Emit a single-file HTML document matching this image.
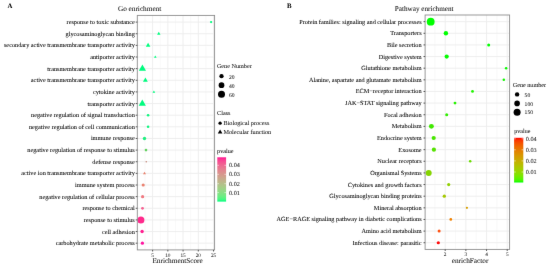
<!DOCTYPE html>
<html><head><meta charset="utf-8"><style>
html,body{margin:0;padding:0;background:#fff;width:550px;height:266px;overflow:hidden}
body{position:relative;font-family:"Liberation Serif",serif}
text{text-rendering:geometricPrecision;stroke:#000;stroke-width:0.05px}
</style></head><body>
<svg width="550" height="266" viewBox="0 0 550 266" style="position:absolute;left:0;top:0"><defs><linearGradient id="gl" x1="0" y1="1" x2="0" y2="0"><stop offset="0.000" stop-color="#00ff7f"/><stop offset="0.050" stop-color="#47f781"/><stop offset="0.100" stop-color="#63f082"/><stop offset="0.150" stop-color="#77e884"/><stop offset="0.200" stop-color="#87e085"/><stop offset="0.250" stop-color="#95d886"/><stop offset="0.300" stop-color="#a1d087"/><stop offset="0.350" stop-color="#acc889"/><stop offset="0.400" stop-color="#b5bf8a"/><stop offset="0.450" stop-color="#beb68b"/><stop offset="0.500" stop-color="#c6ad8c"/><stop offset="0.550" stop-color="#cea48d"/><stop offset="0.600" stop-color="#d59a8d"/><stop offset="0.650" stop-color="#db908e"/><stop offset="0.700" stop-color="#e1868f"/><stop offset="0.750" stop-color="#e77a90"/><stop offset="0.800" stop-color="#ec6d91"/><stop offset="0.850" stop-color="#f15f91"/><stop offset="0.900" stop-color="#f64f92"/><stop offset="0.950" stop-color="#fb3a92"/><stop offset="1.000" stop-color="#ff1493"/></linearGradient><linearGradient id="gr" x1="0" y1="1" x2="0" y2="0"><stop offset="0.000" stop-color="#00ff00"/><stop offset="0.050" stop-color="#49f700"/><stop offset="0.100" stop-color="#65ef00"/><stop offset="0.150" stop-color="#7ae700"/><stop offset="0.200" stop-color="#8adf00"/><stop offset="0.250" stop-color="#98d700"/><stop offset="0.300" stop-color="#a4ce00"/><stop offset="0.350" stop-color="#aec600"/><stop offset="0.400" stop-color="#b8bd00"/><stop offset="0.450" stop-color="#c1b400"/><stop offset="0.500" stop-color="#c9ab00"/><stop offset="0.550" stop-color="#d0a100"/><stop offset="0.600" stop-color="#d79800"/><stop offset="0.650" stop-color="#dd8d00"/><stop offset="0.700" stop-color="#e38200"/><stop offset="0.750" stop-color="#e87600"/><stop offset="0.800" stop-color="#ed6a00"/><stop offset="0.850" stop-color="#f25b00"/><stop offset="0.900" stop-color="#f74a00"/><stop offset="0.950" stop-color="#fb3300"/><stop offset="1.000" stop-color="#ff0000"/></linearGradient><filter id="bl" x="0" y="0" width="550" height="266" filterUnits="userSpaceOnUse" color-interpolation-filters="sRGB"><feConvolveMatrix order="3" kernelMatrix="0.00276 0.04704 0.00276 0.04704 0.80077 0.04704 0.00276 0.04704 0.00276" edgeMode="duplicate" preserveAlpha="true"/></filter></defs><g filter="url(#bl)"><rect width="550" height="266" fill="#fff"/><line x1="145.01" y1="15.4" x2="145.01" y2="249.9" stroke="#f2f2f2" stroke-width="0.5"/><line x1="160.24" y1="15.4" x2="160.24" y2="249.9" stroke="#f2f2f2" stroke-width="0.5"/><line x1="175.46" y1="15.4" x2="175.46" y2="249.9" stroke="#f2f2f2" stroke-width="0.5"/><line x1="190.69" y1="15.4" x2="190.69" y2="249.9" stroke="#f2f2f2" stroke-width="0.5"/><line x1="205.91" y1="15.4" x2="205.91" y2="249.9" stroke="#f2f2f2" stroke-width="0.5"/><line x1="152.62" y1="15.4" x2="152.62" y2="249.9" stroke="#ececec" stroke-width="0.9"/><line x1="167.85" y1="15.4" x2="167.85" y2="249.9" stroke="#ececec" stroke-width="0.9"/><line x1="183.07" y1="15.4" x2="183.07" y2="249.9" stroke="#ececec" stroke-width="0.9"/><line x1="198.30" y1="15.4" x2="198.30" y2="249.9" stroke="#ececec" stroke-width="0.9"/><line x1="213.53" y1="15.4" x2="213.53" y2="249.9" stroke="#ececec" stroke-width="0.9"/><line x1="137.3" y1="22.10" x2="214.6" y2="22.10" stroke="#ececec" stroke-width="0.9"/><line x1="137.3" y1="33.74" x2="214.6" y2="33.74" stroke="#ececec" stroke-width="0.9"/><line x1="137.3" y1="45.37" x2="214.6" y2="45.37" stroke="#ececec" stroke-width="0.9"/><line x1="137.3" y1="57.01" x2="214.6" y2="57.01" stroke="#ececec" stroke-width="0.9"/><line x1="137.3" y1="68.64" x2="214.6" y2="68.64" stroke="#ececec" stroke-width="0.9"/><line x1="137.3" y1="80.28" x2="214.6" y2="80.28" stroke="#ececec" stroke-width="0.9"/><line x1="137.3" y1="91.92" x2="214.6" y2="91.92" stroke="#ececec" stroke-width="0.9"/><line x1="137.3" y1="103.55" x2="214.6" y2="103.55" stroke="#ececec" stroke-width="0.9"/><line x1="137.3" y1="115.19" x2="214.6" y2="115.19" stroke="#ececec" stroke-width="0.9"/><line x1="137.3" y1="126.82" x2="214.6" y2="126.82" stroke="#ececec" stroke-width="0.9"/><line x1="137.3" y1="138.46" x2="214.6" y2="138.46" stroke="#ececec" stroke-width="0.9"/><line x1="137.3" y1="150.10" x2="214.6" y2="150.10" stroke="#ececec" stroke-width="0.9"/><line x1="137.3" y1="161.73" x2="214.6" y2="161.73" stroke="#ececec" stroke-width="0.9"/><line x1="137.3" y1="173.37" x2="214.6" y2="173.37" stroke="#ececec" stroke-width="0.9"/><line x1="137.3" y1="185.00" x2="214.6" y2="185.00" stroke="#ececec" stroke-width="0.9"/><line x1="137.3" y1="196.64" x2="214.6" y2="196.64" stroke="#ececec" stroke-width="0.9"/><line x1="137.3" y1="208.28" x2="214.6" y2="208.28" stroke="#ececec" stroke-width="0.9"/><line x1="137.3" y1="219.91" x2="214.6" y2="219.91" stroke="#ececec" stroke-width="0.9"/><line x1="137.3" y1="231.55" x2="214.6" y2="231.55" stroke="#ececec" stroke-width="0.9"/><line x1="137.3" y1="243.18" x2="214.6" y2="243.18" stroke="#ececec" stroke-width="0.9"/><line x1="434.87" y1="15.0" x2="434.87" y2="249.4" stroke="#f2f2f2" stroke-width="0.5"/><line x1="455.53" y1="15.0" x2="455.53" y2="249.4" stroke="#f2f2f2" stroke-width="0.5"/><line x1="476.20" y1="15.0" x2="476.20" y2="249.4" stroke="#f2f2f2" stroke-width="0.5"/><line x1="496.88" y1="15.0" x2="496.88" y2="249.4" stroke="#f2f2f2" stroke-width="0.5"/><line x1="445.20" y1="15.0" x2="445.20" y2="249.4" stroke="#ececec" stroke-width="0.9"/><line x1="465.87" y1="15.0" x2="465.87" y2="249.4" stroke="#ececec" stroke-width="0.9"/><line x1="486.54" y1="15.0" x2="486.54" y2="249.4" stroke="#ececec" stroke-width="0.9"/><line x1="507.21" y1="15.0" x2="507.21" y2="249.4" stroke="#ececec" stroke-width="0.9"/><line x1="425.1" y1="21.65" x2="509.6" y2="21.65" stroke="#ececec" stroke-width="0.9"/><line x1="425.1" y1="33.29" x2="509.6" y2="33.29" stroke="#ececec" stroke-width="0.9"/><line x1="425.1" y1="44.92" x2="509.6" y2="44.92" stroke="#ececec" stroke-width="0.9"/><line x1="425.1" y1="56.56" x2="509.6" y2="56.56" stroke="#ececec" stroke-width="0.9"/><line x1="425.1" y1="68.19" x2="509.6" y2="68.19" stroke="#ececec" stroke-width="0.9"/><line x1="425.1" y1="79.83" x2="509.6" y2="79.83" stroke="#ececec" stroke-width="0.9"/><line x1="425.1" y1="91.47" x2="509.6" y2="91.47" stroke="#ececec" stroke-width="0.9"/><line x1="425.1" y1="103.10" x2="509.6" y2="103.10" stroke="#ececec" stroke-width="0.9"/><line x1="425.1" y1="114.74" x2="509.6" y2="114.74" stroke="#ececec" stroke-width="0.9"/><line x1="425.1" y1="126.37" x2="509.6" y2="126.37" stroke="#ececec" stroke-width="0.9"/><line x1="425.1" y1="138.01" x2="509.6" y2="138.01" stroke="#ececec" stroke-width="0.9"/><line x1="425.1" y1="149.65" x2="509.6" y2="149.65" stroke="#ececec" stroke-width="0.9"/><line x1="425.1" y1="161.28" x2="509.6" y2="161.28" stroke="#ececec" stroke-width="0.9"/><line x1="425.1" y1="172.92" x2="509.6" y2="172.92" stroke="#ececec" stroke-width="0.9"/><line x1="425.1" y1="184.55" x2="509.6" y2="184.55" stroke="#ececec" stroke-width="0.9"/><line x1="425.1" y1="196.19" x2="509.6" y2="196.19" stroke="#ececec" stroke-width="0.9"/><line x1="425.1" y1="207.83" x2="509.6" y2="207.83" stroke="#ececec" stroke-width="0.9"/><line x1="425.1" y1="219.46" x2="509.6" y2="219.46" stroke="#ececec" stroke-width="0.9"/><line x1="425.1" y1="231.10" x2="509.6" y2="231.10" stroke="#ececec" stroke-width="0.9"/><line x1="425.1" y1="242.73" x2="509.6" y2="242.73" stroke="#ececec" stroke-width="0.9"/><circle cx="211.1" cy="22.10" r="1.10" fill="#00ff7f"/><polygon points="157.10,34.72 160.50,34.72 158.80,31.76" fill="#00ff7f"/><polygon points="145.85,46.68 150.35,46.68 148.10,42.76" fill="#00ff7f"/><polygon points="154.00,57.76 156.60,57.76 155.30,55.50" fill="#00ff7f"/><polygon points="138.80,70.73 146.00,70.73 142.40,64.47" fill="#00fb7f"/><polygon points="142.95,81.70 147.85,81.70 145.40,77.44" fill="#00fb7f"/><polygon points="152.60,92.67 155.20,92.67 153.90,90.41" fill="#00fb7f"/><polygon points="138.70,105.64 145.90,105.64 142.30,99.38" fill="#00fb7f"/><circle cx="148.1" cy="115.19" r="1.30" fill="#10f57f"/><circle cx="148.1" cy="126.82" r="1.30" fill="#10f57f"/><circle cx="144.5" cy="138.46" r="1.70" fill="#20ef80"/><circle cx="146.0" cy="150.10" r="1.30" fill="#63d060"/><circle cx="146.3" cy="161.73" r="0.80" fill="#c58a7c"/><polygon points="143.00,174.24 146.00,174.24 144.50,171.63" fill="#e8806c"/><circle cx="143.2" cy="185.00" r="1.55" fill="#ea8270"/><circle cx="142.6" cy="196.64" r="1.60" fill="#f07880"/><circle cx="142.5" cy="208.28" r="1.40" fill="#f56090"/><circle cx="140.9" cy="219.91" r="3.50" fill="#ff2a8c"/><circle cx="142.1" cy="231.55" r="1.70" fill="#ff1e90"/><circle cx="142.4" cy="243.18" r="1.60" fill="#ff14a0"/><circle cx="430.7" cy="21.65" r="3.90" fill="#00ff00"/><circle cx="445.9" cy="33.29" r="2.20" fill="#00ff00"/><circle cx="488.7" cy="44.92" r="1.50" fill="#00ff00"/><circle cx="446.7" cy="56.56" r="2.10" fill="#05fc00"/><circle cx="506.1" cy="68.19" r="1.25" fill="#08fa00"/><circle cx="503.8" cy="79.83" r="1.25" fill="#10f800"/><circle cx="472.5" cy="91.47" r="1.40" fill="#20f400"/><circle cx="455.0" cy="103.10" r="1.40" fill="#25f200"/><circle cx="446.7" cy="114.74" r="1.50" fill="#30ee00"/><circle cx="431.4" cy="126.37" r="2.45" fill="#40e800"/><circle cx="433.7" cy="138.01" r="2.10" fill="#48e600"/><circle cx="433.9" cy="149.65" r="2.10" fill="#55e200"/><circle cx="470.2" cy="161.28" r="1.25" fill="#68dc00"/><circle cx="428.7" cy="172.92" r="3.00" fill="#85d400"/><circle cx="448.7" cy="184.55" r="1.60" fill="#90d000"/><circle cx="444.3" cy="196.19" r="1.65" fill="#a4c800"/><circle cx="466.9" cy="207.83" r="1.10" fill="#d8a000"/><circle cx="450.8" cy="219.46" r="1.35" fill="#f08000"/><circle cx="439.1" cy="231.10" r="1.50" fill="#ff5010"/><circle cx="438.3" cy="242.73" r="1.60" fill="#ff0a0a"/><rect x="137.3" y="15.4" width="77.30" height="234.50" fill="none" stroke="#8e8e8e" stroke-width="0.9"/><rect x="425.1" y="15.0" width="84.50" height="234.40" fill="none" stroke="#8e8e8e" stroke-width="0.9"/><line x1="135.70" y1="22.10" x2="137.3" y2="22.10" stroke="#333" stroke-width="0.8"/><text x="134.8" y="24.10" text-anchor="end" font-size="6.25" fill="#000" style="font-family:&quot;Liberation Serif&quot;,serif">response to toxic substance</text><line x1="135.70" y1="33.74" x2="137.3" y2="33.74" stroke="#333" stroke-width="0.8"/><text x="134.8" y="35.74" text-anchor="end" font-size="6.25" fill="#000" style="font-family:&quot;Liberation Serif&quot;,serif">glycosaminoglycan binding</text><line x1="135.70" y1="45.37" x2="137.3" y2="45.37" stroke="#333" stroke-width="0.8"/><text x="134.8" y="47.37" text-anchor="end" font-size="6.25" fill="#000" style="font-family:&quot;Liberation Serif&quot;,serif">secondary active transmembrane transporter activity</text><line x1="135.70" y1="57.01" x2="137.3" y2="57.01" stroke="#333" stroke-width="0.8"/><text x="134.8" y="59.01" text-anchor="end" font-size="6.25" fill="#000" style="font-family:&quot;Liberation Serif&quot;,serif">antiporter activity</text><line x1="135.70" y1="68.64" x2="137.3" y2="68.64" stroke="#333" stroke-width="0.8"/><text x="134.8" y="70.64" text-anchor="end" font-size="6.25" fill="#000" style="font-family:&quot;Liberation Serif&quot;,serif">transmembrane transporter activity</text><line x1="135.70" y1="80.28" x2="137.3" y2="80.28" stroke="#333" stroke-width="0.8"/><text x="134.8" y="82.28" text-anchor="end" font-size="6.25" fill="#000" style="font-family:&quot;Liberation Serif&quot;,serif">active transmembrane transporter activity</text><line x1="135.70" y1="91.92" x2="137.3" y2="91.92" stroke="#333" stroke-width="0.8"/><text x="134.8" y="93.92" text-anchor="end" font-size="6.25" fill="#000" style="font-family:&quot;Liberation Serif&quot;,serif">cytokine activity</text><line x1="135.70" y1="103.55" x2="137.3" y2="103.55" stroke="#333" stroke-width="0.8"/><text x="134.8" y="105.55" text-anchor="end" font-size="6.25" fill="#000" style="font-family:&quot;Liberation Serif&quot;,serif">transporter activity</text><line x1="135.70" y1="115.19" x2="137.3" y2="115.19" stroke="#333" stroke-width="0.8"/><text x="134.8" y="117.19" text-anchor="end" font-size="6.25" fill="#000" style="font-family:&quot;Liberation Serif&quot;,serif">negative regulation of signal transduction</text><line x1="135.70" y1="126.82" x2="137.3" y2="126.82" stroke="#333" stroke-width="0.8"/><text x="134.8" y="128.82" text-anchor="end" font-size="6.25" fill="#000" style="font-family:&quot;Liberation Serif&quot;,serif">negative regulation of cell communication</text><line x1="135.70" y1="138.46" x2="137.3" y2="138.46" stroke="#333" stroke-width="0.8"/><text x="134.8" y="140.46" text-anchor="end" font-size="6.25" fill="#000" style="font-family:&quot;Liberation Serif&quot;,serif">immune response</text><line x1="135.70" y1="150.10" x2="137.3" y2="150.10" stroke="#333" stroke-width="0.8"/><text x="134.8" y="152.10" text-anchor="end" font-size="6.25" fill="#000" style="font-family:&quot;Liberation Serif&quot;,serif">negative regulation of response to stimulus</text><line x1="135.70" y1="161.73" x2="137.3" y2="161.73" stroke="#333" stroke-width="0.8"/><text x="134.8" y="163.73" text-anchor="end" font-size="6.25" fill="#000" style="font-family:&quot;Liberation Serif&quot;,serif">defense response</text><line x1="135.70" y1="173.37" x2="137.3" y2="173.37" stroke="#333" stroke-width="0.8"/><text x="134.8" y="175.37" text-anchor="end" font-size="6.25" fill="#000" style="font-family:&quot;Liberation Serif&quot;,serif">active ion transmembrane transporter activity</text><line x1="135.70" y1="185.00" x2="137.3" y2="185.00" stroke="#333" stroke-width="0.8"/><text x="134.8" y="187.00" text-anchor="end" font-size="6.25" fill="#000" style="font-family:&quot;Liberation Serif&quot;,serif">immune system process</text><line x1="135.70" y1="196.64" x2="137.3" y2="196.64" stroke="#333" stroke-width="0.8"/><text x="134.8" y="198.64" text-anchor="end" font-size="6.25" fill="#000" style="font-family:&quot;Liberation Serif&quot;,serif">negative regulation of cellular process</text><line x1="135.70" y1="208.28" x2="137.3" y2="208.28" stroke="#333" stroke-width="0.8"/><text x="134.8" y="210.28" text-anchor="end" font-size="6.25" fill="#000" style="font-family:&quot;Liberation Serif&quot;,serif">response to chemical</text><line x1="135.70" y1="219.91" x2="137.3" y2="219.91" stroke="#333" stroke-width="0.8"/><text x="134.8" y="221.91" text-anchor="end" font-size="6.25" fill="#000" style="font-family:&quot;Liberation Serif&quot;,serif">response to stimulus</text><line x1="135.70" y1="231.55" x2="137.3" y2="231.55" stroke="#333" stroke-width="0.8"/><text x="134.8" y="233.55" text-anchor="end" font-size="6.25" fill="#000" style="font-family:&quot;Liberation Serif&quot;,serif">cell adhesion</text><line x1="135.70" y1="243.18" x2="137.3" y2="243.18" stroke="#333" stroke-width="0.8"/><text x="134.8" y="245.18" text-anchor="end" font-size="6.25" fill="#000" style="font-family:&quot;Liberation Serif&quot;,serif">carbohydrate metabolic process</text><line x1="423.50" y1="21.65" x2="425.1" y2="21.65" stroke="#333" stroke-width="0.8"/><text x="421.6" y="23.65" text-anchor="end" font-size="6.25" fill="#000" style="font-family:&quot;Liberation Serif&quot;,serif">Protein families: signaling and cellular processes</text><line x1="423.50" y1="33.29" x2="425.1" y2="33.29" stroke="#333" stroke-width="0.8"/><text x="421.6" y="35.29" text-anchor="end" font-size="6.25" fill="#000" style="font-family:&quot;Liberation Serif&quot;,serif">Transporters</text><line x1="423.50" y1="44.92" x2="425.1" y2="44.92" stroke="#333" stroke-width="0.8"/><text x="421.6" y="46.92" text-anchor="end" font-size="6.25" fill="#000" style="font-family:&quot;Liberation Serif&quot;,serif">Bile secretion</text><line x1="423.50" y1="56.56" x2="425.1" y2="56.56" stroke="#333" stroke-width="0.8"/><text x="421.6" y="58.56" text-anchor="end" font-size="6.25" fill="#000" style="font-family:&quot;Liberation Serif&quot;,serif">Digestive system</text><line x1="423.50" y1="68.19" x2="425.1" y2="68.19" stroke="#333" stroke-width="0.8"/><text x="421.6" y="70.19" text-anchor="end" font-size="6.25" fill="#000" style="font-family:&quot;Liberation Serif&quot;,serif">Glutathione metabolism</text><line x1="423.50" y1="79.83" x2="425.1" y2="79.83" stroke="#333" stroke-width="0.8"/><text x="421.6" y="81.83" text-anchor="end" font-size="6.25" fill="#000" style="font-family:&quot;Liberation Serif&quot;,serif">Alanine, aspartate and glutamate metabolism</text><line x1="423.50" y1="91.47" x2="425.1" y2="91.47" stroke="#333" stroke-width="0.8"/><text x="421.6" y="93.47" text-anchor="end" font-size="6.25" fill="#000" style="font-family:&quot;Liberation Serif&quot;,serif">ECM−receptor interaction</text><line x1="423.50" y1="103.10" x2="425.1" y2="103.10" stroke="#333" stroke-width="0.8"/><text x="421.6" y="105.10" text-anchor="end" font-size="6.25" fill="#000" style="font-family:&quot;Liberation Serif&quot;,serif">JAK−STAT signaling pathway</text><line x1="423.50" y1="114.74" x2="425.1" y2="114.74" stroke="#333" stroke-width="0.8"/><text x="421.6" y="116.74" text-anchor="end" font-size="6.25" fill="#000" style="font-family:&quot;Liberation Serif&quot;,serif">Focal adhesion</text><line x1="423.50" y1="126.37" x2="425.1" y2="126.37" stroke="#333" stroke-width="0.8"/><text x="421.6" y="128.37" text-anchor="end" font-size="6.25" fill="#000" style="font-family:&quot;Liberation Serif&quot;,serif">Metabolism</text><line x1="423.50" y1="138.01" x2="425.1" y2="138.01" stroke="#333" stroke-width="0.8"/><text x="421.6" y="140.01" text-anchor="end" font-size="6.25" fill="#000" style="font-family:&quot;Liberation Serif&quot;,serif">Endocrine system</text><line x1="423.50" y1="149.65" x2="425.1" y2="149.65" stroke="#333" stroke-width="0.8"/><text x="421.6" y="151.65" text-anchor="end" font-size="6.25" fill="#000" style="font-family:&quot;Liberation Serif&quot;,serif">Exosome</text><line x1="423.50" y1="161.28" x2="425.1" y2="161.28" stroke="#333" stroke-width="0.8"/><text x="421.6" y="163.28" text-anchor="end" font-size="6.25" fill="#000" style="font-family:&quot;Liberation Serif&quot;,serif">Nuclear receptors</text><line x1="423.50" y1="172.92" x2="425.1" y2="172.92" stroke="#333" stroke-width="0.8"/><text x="421.6" y="174.92" text-anchor="end" font-size="6.25" fill="#000" style="font-family:&quot;Liberation Serif&quot;,serif">Organismal Systems</text><line x1="423.50" y1="184.55" x2="425.1" y2="184.55" stroke="#333" stroke-width="0.8"/><text x="421.6" y="186.55" text-anchor="end" font-size="6.25" fill="#000" style="font-family:&quot;Liberation Serif&quot;,serif">Cytokines and growth factors</text><line x1="423.50" y1="196.19" x2="425.1" y2="196.19" stroke="#333" stroke-width="0.8"/><text x="421.6" y="198.19" text-anchor="end" font-size="6.25" fill="#000" style="font-family:&quot;Liberation Serif&quot;,serif">Glycosaminoglycan binding proteins</text><line x1="423.50" y1="207.83" x2="425.1" y2="207.83" stroke="#333" stroke-width="0.8"/><text x="421.6" y="209.83" text-anchor="end" font-size="6.25" fill="#000" style="font-family:&quot;Liberation Serif&quot;,serif">Mineral absorption</text><line x1="423.50" y1="219.46" x2="425.1" y2="219.46" stroke="#333" stroke-width="0.8"/><text x="421.6" y="221.46" text-anchor="end" font-size="6.25" fill="#000" style="font-family:&quot;Liberation Serif&quot;,serif">AGE−RAGE signaling pathway in diabetic complications</text><line x1="423.50" y1="231.10" x2="425.1" y2="231.10" stroke="#333" stroke-width="0.8"/><text x="421.6" y="233.10" text-anchor="end" font-size="6.25" fill="#000" style="font-family:&quot;Liberation Serif&quot;,serif">Amino acid metabolism</text><line x1="423.50" y1="242.73" x2="425.1" y2="242.73" stroke="#333" stroke-width="0.8"/><text x="421.6" y="244.73" text-anchor="end" font-size="6.25" fill="#000" style="font-family:&quot;Liberation Serif&quot;,serif">Infectious disease: parasitic</text><line x1="152.62" y1="249.9" x2="152.62" y2="251.50" stroke="#333" stroke-width="0.8"/><text x="152.62" y="256.5" text-anchor="middle" font-size="5.3" fill="#3a3a3a" style="font-family:&quot;Liberation Serif&quot;,serif">5</text><line x1="167.85" y1="249.9" x2="167.85" y2="251.50" stroke="#333" stroke-width="0.8"/><text x="167.85" y="256.5" text-anchor="middle" font-size="5.3" fill="#3a3a3a" style="font-family:&quot;Liberation Serif&quot;,serif">10</text><line x1="183.07" y1="249.9" x2="183.07" y2="251.50" stroke="#333" stroke-width="0.8"/><text x="183.07" y="256.5" text-anchor="middle" font-size="5.3" fill="#3a3a3a" style="font-family:&quot;Liberation Serif&quot;,serif">15</text><line x1="198.30" y1="249.9" x2="198.30" y2="251.50" stroke="#333" stroke-width="0.8"/><text x="198.30" y="256.5" text-anchor="middle" font-size="5.3" fill="#3a3a3a" style="font-family:&quot;Liberation Serif&quot;,serif">20</text><line x1="213.53" y1="249.9" x2="213.53" y2="251.50" stroke="#333" stroke-width="0.8"/><text x="213.53" y="256.5" text-anchor="middle" font-size="5.3" fill="#3a3a3a" style="font-family:&quot;Liberation Serif&quot;,serif">25</text><line x1="445.20" y1="249.4" x2="445.20" y2="251.00" stroke="#333" stroke-width="0.8"/><text x="445.20" y="256.4" text-anchor="middle" font-size="5.3" fill="#3a3a3a" style="font-family:&quot;Liberation Serif&quot;,serif">2</text><line x1="465.87" y1="249.4" x2="465.87" y2="251.00" stroke="#333" stroke-width="0.8"/><text x="465.87" y="256.4" text-anchor="middle" font-size="5.3" fill="#3a3a3a" style="font-family:&quot;Liberation Serif&quot;,serif">3</text><line x1="486.54" y1="249.4" x2="486.54" y2="251.00" stroke="#333" stroke-width="0.8"/><text x="486.54" y="256.4" text-anchor="middle" font-size="5.3" fill="#3a3a3a" style="font-family:&quot;Liberation Serif&quot;,serif">4</text><line x1="507.21" y1="249.4" x2="507.21" y2="251.00" stroke="#333" stroke-width="0.8"/><text x="507.21" y="256.4" text-anchor="middle" font-size="5.3" fill="#3a3a3a" style="font-family:&quot;Liberation Serif&quot;,serif">5</text><text x="177.6" y="263.0" text-anchor="middle" font-size="7.25" fill="#111" style="font-family:&quot;Liberation Serif&quot;,serif">EnrichmentScore</text><text x="470.0" y="262.6" text-anchor="middle" font-size="7.25" fill="#111" style="font-family:&quot;Liberation Serif&quot;,serif">enrichFactor</text><text x="117.9" y="10.9" font-size="7.27" fill="#111" style="font-family:&quot;Liberation Serif&quot;,serif">Go enrichment</text><text x="394.8" y="10.6" font-size="7.18" fill="#111" style="font-family:&quot;Liberation Serif&quot;,serif">Pathway enrichment</text><text x="7.4" y="8.4" font-size="6.8" font-weight="bold" fill="#000" style="font-family:&quot;Liberation Serif&quot;,serif">A</text><text x="287.0" y="8.1" font-size="6.8" font-weight="bold" fill="#000" style="font-family:&quot;Liberation Serif&quot;,serif">B</text><text x="216.9" y="68.0" font-size="6.2" fill="#111" style="font-family:&quot;Liberation Serif&quot;,serif">Gene Number</text><circle cx="221.5" cy="76.2" r="2.15" fill="#000"/><text x="228.9" y="78.90" font-size="5.6" fill="#222" style="font-family:&quot;Liberation Serif&quot;,serif">20</text><circle cx="221.5" cy="85.2" r="2.85" fill="#000"/><text x="228.9" y="87.90" font-size="5.6" fill="#222" style="font-family:&quot;Liberation Serif&quot;,serif">40</text><circle cx="221.5" cy="94.3" r="3.5" fill="#000"/><text x="228.9" y="97.00" font-size="5.6" fill="#222" style="font-family:&quot;Liberation Serif&quot;,serif">60</text><text x="217.1" y="114.6" font-size="6.2" fill="#111" style="font-family:&quot;Liberation Serif&quot;,serif">Class</text><circle cx="220.1" cy="123.2" r="1.65" fill="#000"/><text x="223.5" y="125.0" font-size="6.2" fill="#111" style="font-family:&quot;Liberation Serif&quot;,serif">Biological process</text><polygon points="217.8,133.5 222.4,133.5 220.1,129.5" fill="#000"/><text x="223.5" y="133.5" font-size="6.2" fill="#111" style="font-family:&quot;Liberation Serif&quot;,serif">Molecular function</text><text x="217.1" y="152.7" font-size="6.2" fill="#111" style="font-family:&quot;Liberation Serif&quot;,serif">pvalue</text><rect x="217.3" y="157.3" width="8.8" height="44.3" fill="url(#gl)"/><line x1="217.3" y1="165.3" x2="219.0" y2="165.3" stroke="#fff" stroke-width="0.5"/><line x1="224.4" y1="165.3" x2="226.1" y2="165.3" stroke="#fff" stroke-width="0.5"/><text x="229.0" y="167.40" font-size="6.2" fill="#222" style="font-family:&quot;Liberation Serif&quot;,serif">0.04</text><line x1="217.3" y1="174.3" x2="219.0" y2="174.3" stroke="#fff" stroke-width="0.5"/><line x1="224.4" y1="174.3" x2="226.1" y2="174.3" stroke="#fff" stroke-width="0.5"/><text x="229.0" y="176.40" font-size="6.2" fill="#222" style="font-family:&quot;Liberation Serif&quot;,serif">0.03</text><line x1="217.3" y1="183.7" x2="219.0" y2="183.7" stroke="#fff" stroke-width="0.5"/><line x1="224.4" y1="183.7" x2="226.1" y2="183.7" stroke="#fff" stroke-width="0.5"/><text x="229.0" y="185.80" font-size="6.2" fill="#222" style="font-family:&quot;Liberation Serif&quot;,serif">0.02</text><line x1="217.3" y1="192.6" x2="219.0" y2="192.6" stroke="#fff" stroke-width="0.5"/><line x1="224.4" y1="192.6" x2="226.1" y2="192.6" stroke="#fff" stroke-width="0.5"/><text x="229.0" y="194.70" font-size="6.2" fill="#222" style="font-family:&quot;Liberation Serif&quot;,serif">0.01</text><text x="512.8" y="86.6" font-size="6.15" fill="#111" style="font-family:&quot;Liberation Serif&quot;,serif">Gene number</text><circle cx="517.1" cy="94.4" r="2.2" fill="#000"/><text x="524.6" y="96.60" font-size="5.6" fill="#222" style="font-family:&quot;Liberation Serif&quot;,serif">50</text><circle cx="517.1" cy="103.4" r="2.8" fill="#000"/><text x="524.6" y="105.60" font-size="5.6" fill="#222" style="font-family:&quot;Liberation Serif&quot;,serif">100</text><circle cx="517.1" cy="112.2" r="3.5" fill="#000"/><text x="524.6" y="114.40" font-size="5.6" fill="#222" style="font-family:&quot;Liberation Serif&quot;,serif">150</text><text x="514.3" y="132.8" font-size="6.0" fill="#111" style="font-family:&quot;Liberation Serif&quot;,serif">pvalue</text><rect x="514.1" y="137.8" width="9.2" height="44.7" fill="url(#gr)"/><line x1="514.1" y1="138.8" x2="515.8" y2="138.8" stroke="#fff" stroke-width="0.5"/><line x1="521.6" y1="138.8" x2="523.3" y2="138.8" stroke="#fff" stroke-width="0.5"/><text x="525.8" y="140.90" font-size="6.2" fill="#222" style="font-family:&quot;Liberation Serif&quot;,serif">0.04</text><line x1="514.1" y1="149.8" x2="515.8" y2="149.8" stroke="#fff" stroke-width="0.5"/><line x1="521.6" y1="149.8" x2="523.3" y2="149.8" stroke="#fff" stroke-width="0.5"/><text x="525.8" y="151.90" font-size="6.2" fill="#222" style="font-family:&quot;Liberation Serif&quot;,serif">0.03</text><line x1="514.1" y1="160.9" x2="515.8" y2="160.9" stroke="#fff" stroke-width="0.5"/><line x1="521.6" y1="160.9" x2="523.3" y2="160.9" stroke="#fff" stroke-width="0.5"/><text x="525.8" y="163.00" font-size="6.2" fill="#222" style="font-family:&quot;Liberation Serif&quot;,serif">0.02</text><line x1="514.1" y1="172.0" x2="515.8" y2="172.0" stroke="#fff" stroke-width="0.5"/><line x1="521.6" y1="172.0" x2="523.3" y2="172.0" stroke="#fff" stroke-width="0.5"/><text x="525.8" y="174.10" font-size="6.2" fill="#222" style="font-family:&quot;Liberation Serif&quot;,serif">0.01</text></g></svg>
</body></html>
